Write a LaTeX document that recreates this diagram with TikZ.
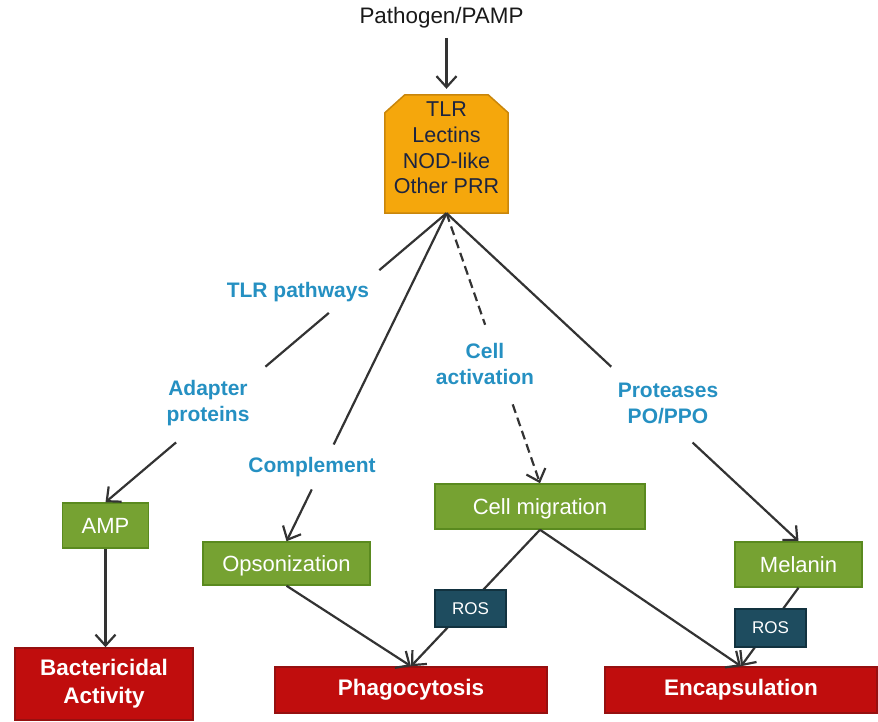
\documentclass[tikz,border=0pt]{standalone}
\usepackage{fontspec}
\setmainfont{Liberation Sans}
\usetikzlibrary{arrows.meta,calc,backgrounds}
\definecolor{orf}{HTML}{F5A70C}
\definecolor{ord}{HTML}{C9860B}
\definecolor{grf}{HTML}{76A232}
\definecolor{grd}{HTML}{5A8A1F}
\definecolor{rdf}{HTML}{C00D0D}
\definecolor{rdd}{HTML}{961010}
\definecolor{tlf}{HTML}{1E4C5F}
\definecolor{tld}{HTML}{12323F}
\definecolor{lbl}{HTML}{2590C2}
\definecolor{lnc}{HTML}{333333}
\definecolor{navy}{HTML}{1C2440}
\begin{document}
\begin{tikzpicture}[x=1pt,y=-1pt,
  gbox/.style={draw=grd,fill=grf,line width=1.5pt,text=white,font=\fontsize{22}{26}\selectfont,inner sep=0pt,text height=16pt,text depth=0pt},
  rbox/.style={draw=rdd,fill=rdf,line width=1.5pt,text=white,font=\bfseries\fontsize{22.5}{28}\selectfont,inner sep=0pt,align=center},
  tbox/.style={draw=tld,fill=tlf,line width=1.5pt,text=white,font=\fontsize{17}{20}\selectfont,inner sep=0pt},
  seg/.style={draw=lnc,line width=2.2pt},
  conn/.style={seg,-{Straight Barb[length=11pt,width=20pt]}},
  dconn/.style={conn,dash pattern=on 9pt off 5pt},
  dseg/.style={seg,dash pattern=on 9pt off 5pt},
  lab/.style={text=lbl,font=\bfseries\fontsize{21}{26}\selectfont,align=center}]
\useasboundingbox (0,0) rectangle (878,722);

% top
\node[font=\fontsize{22.4}{26}\selectfont,text=black!90] (pamp) at (441.5,18) {Pathogen/PAMP};
\node[minimum width=123pt,minimum height=118pt,inner sep=0pt] (tlr) at (446.5,154) {};
\begin{scope}[on background layer]
\draw[draw=ord,fill=orf,line width=1.5pt] (tlr.south west) -- ($(tlr.north west)+(0,18)$) -- ($(tlr.north west)+(20,0)$) -- ($(tlr.north east)+(-20,0)$) -- ($(tlr.north east)+(0,18)$) -- (tlr.south east) -- cycle;
\end{scope}
\node[text=navy,font=\fontsize{21.5}{25.7}\selectfont,align=center] (tlrtxt) at (446.5,148) {TLR\\Lectins\\NOD-like\\Other PRR};

% boxes
\node[gbox,minimum width=86pt,minimum height=45pt] (amp) at (105.5,525.5) {AMP};
\node[gbox,minimum width=167pt,minimum height=43pt] (opso) at (286.5,563.5) {Opsonization};
\node[gbox,minimum width=210pt,minimum height=45pt] (cm) at (540,506.5) {Cell migration};
\node[gbox,minimum width=127pt,minimum height=45pt] (mel) at (798.5,564.5) {Melanin};
\node[rbox,minimum width=178pt,minimum height=72pt] (bact) at (104,684) {Bactericidal\\Activity};
\node[rbox,minimum width=272pt,minimum height=46pt] (phago) at (411,690) {Phagocytosis};
\node[rbox,minimum width=272pt,minimum height=46pt] (encap) at (741,690) {Encapsulation};

% labels
\node[lab] (tlrp) at (298,292) {TLR pathways};
\node[lab] (adap) at (208,403) {Adapter\\proteins};
\node[lab] (comp) at (312,467) {Complement};
\node[lab] (cact) at (485,364) {Cell\\activation};
\node[lab] (prot) at (668,403) {Proteases\\PO/PPO};

% connectors
\draw[conn,shorten <=6pt,shorten >=6pt] (pamp.south -| tlr.north) -- (tlr.north);

\draw[seg] (tlr.south) -- ($(tlr.south)!0.197!(amp.north)$);
\draw[seg] ($(tlr.south)!0.345!(amp.north)$) -- ($(tlr.south)!0.531!(amp.north)$);
\draw[conn] ($(tlr.south)!0.793!(amp.north)$) -- (amp.north);

\draw[seg] (tlr.south) -- ($(tlr.south)!0.705!(opso.north)$);
\draw[conn] ($(tlr.south)!0.842!(opso.north)$) -- (opso.north);

\draw[dseg] (tlr.south) -- ($(tlr.south)!0.413!(cm.north)$);
\draw[dconn] ($(tlr.south)!0.708!(cm.north)$) -- (cm.north);

\draw[seg] (tlr.south) -- ($(tlr.south)!0.468!(mel.north)$);
\draw[conn] ($(tlr.south)!0.699!(mel.north)$) -- (mel.north);

\draw[conn] (amp.south) -- (amp.south |- bact.north);
\draw[conn] (opso.south) -- (phago.north);
\draw[conn] (cm.south) -- (phago.north);
\draw[conn] (cm.south) -- (encap.north);
\draw[conn] (mel.south) -- (encap.north);

% ROS boxes on top of lines
\node[tbox,minimum width=71pt,minimum height=37pt] (ros1) at (470.5,608.5) {ROS};
\node[tbox,minimum width=71pt,minimum height=38pt] (ros2) at (770.5,628) {ROS};
\end{tikzpicture}
\end{document}
